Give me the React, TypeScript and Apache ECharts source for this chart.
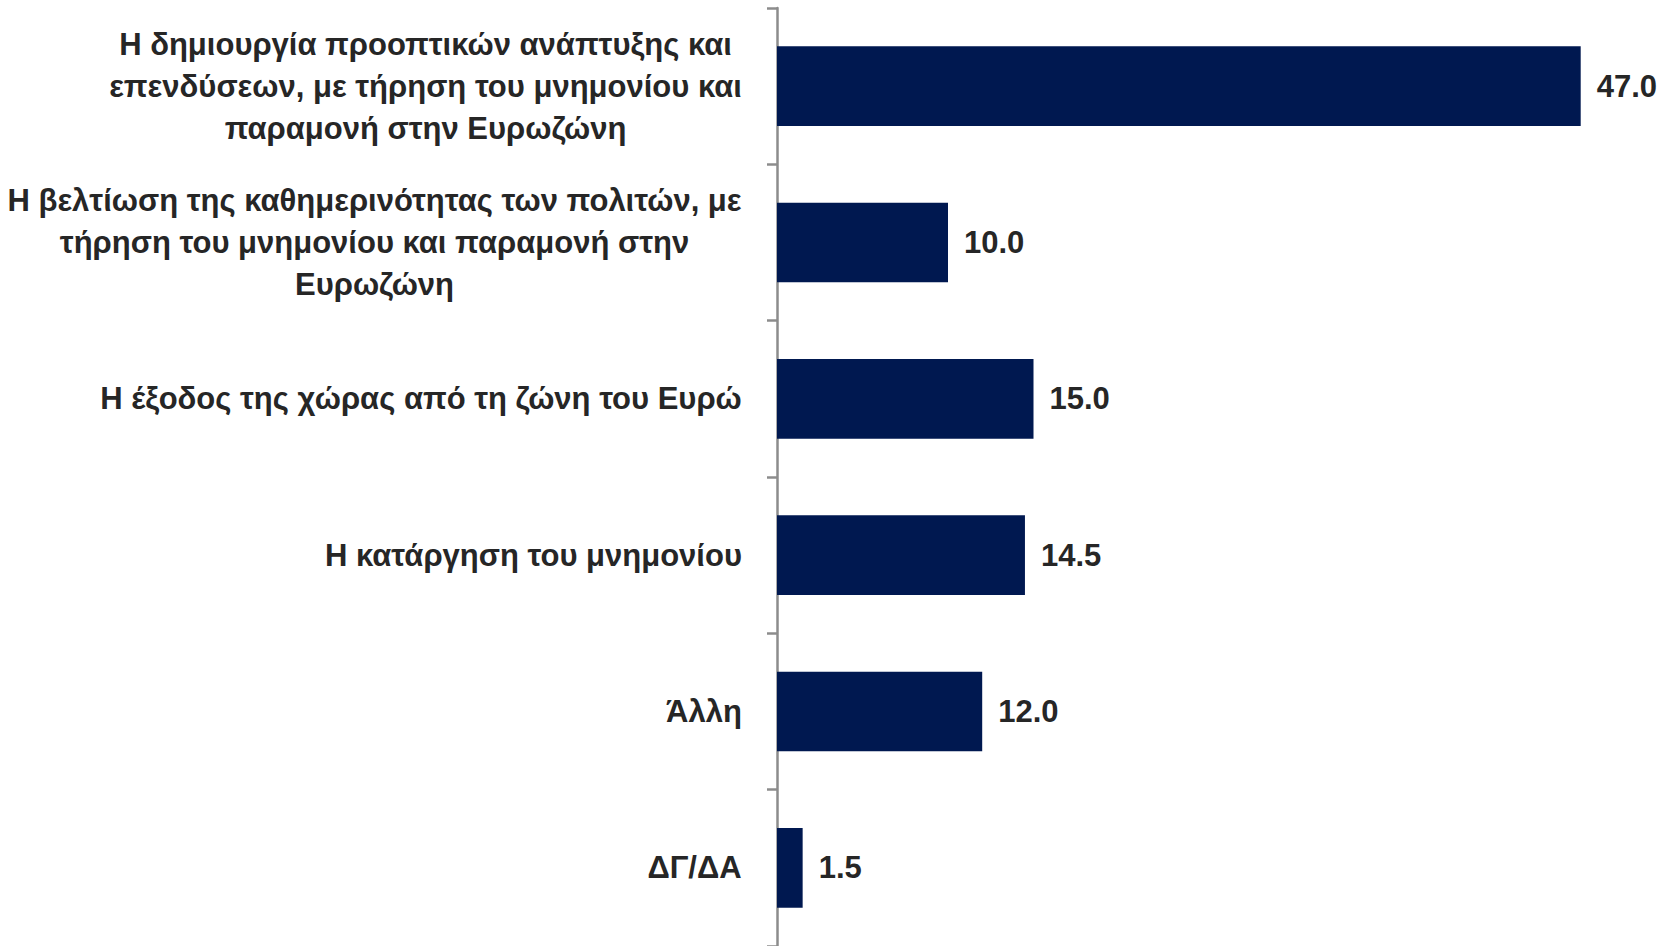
import React, { useEffect, useRef } from "react";
import * as echarts from "echarts";

const categories: string[] = [
  "Η δημιουργία προοπτικών ανάπτυξης και\nεπενδύσεων, με τήρηση του μνημονίου και\nπαραμονή στην Ευρωζώνη",
  "Η βελτίωση της καθημερινότητας των πολιτών, με\nτήρηση του μνημονίου και παραμονή στην\nΕυρωζώνη",
  "Η έξοδος της χώρας από τη ζώνη του Ευρώ",
  "Η κατάργηση του μνημονίου",
  "Άλλη",
  "ΔΓ/ΔΑ",
];
const values: number[] = [47.0, 10.0, 15.0, 14.5, 12.0, 1.5];

const FONT_FAMILY = '"Liberation Sans", Arial, sans-serif';
const FONT_SIZE = 31;
const TEXT_COLOR = "#262626";
const BAR_COLOR = "#001850";

function measure(text: string): number {
  const c = document.createElement("canvas");
  const ctx = c.getContext("2d");
  if (!ctx) return text.length * 16;
  ctx.font = `bold ${FONT_SIZE}px ${FONT_FAMILY}`;
  return ctx.measureText(text).width;
}

export default function App() {
  const ref = useRef<HTMLDivElement>(null);
  useEffect(() => {
    document.body.style.margin = "0";
    if (!ref.current) return;
    const chart = echarts.init(ref.current, undefined, { renderer: "svg" });
    const rich: Record<string, any> = {};
    categories.forEach((cat, i) => {
      const w = Math.ceil(Math.max(...cat.split("\n").map(measure)));
      rich["c" + i] = {
        width: w,
        align: "center",
        fontFamily: FONT_FAMILY,
        fontSize: FONT_SIZE,
        fontWeight: "bold",
        color: TEXT_COLOR,
        lineHeight: 42,
      };
    });
    chart.setOption({
      animation: false,
      grid: {
        left: 777,
        top: 8,
        bottom: 0,
        width: 855,
        containLabel: false,
        outerBoundsMode: "none",
      },
      xAxis: {
        type: "value",
        min: 0,
        max: 50,
        show: false,
        splitLine: { show: false },
      },
      yAxis: {
        type: "category",
        inverse: true,
        data: categories,
        axisLine: { show: true, lineStyle: { color: "#8c8c8c", width: 2.5 } },
        axisTick: { show: true, length: 10, lineStyle: { color: "#8c8c8c", width: 2.5 } },
        axisLabel: {
          margin: 35,
          lineHeight: 42,
          formatter: (v: string) => {
            const i = categories.indexOf(v);
            return v
              .split("\n")
              .map((l) => `{c${i}|${l}}`)
              .join("\n");
          },
          rich,
        },
      },
      series: [
        {
          type: "bar",
          data: values,
          barCategoryGap: "49%",
          itemStyle: { color: BAR_COLOR },
          label: {
            show: true,
            position: "right",
            distance: 16,
            formatter: (p: any) => Number(p.value).toFixed(1),
            fontFamily: FONT_FAMILY,
            fontSize: FONT_SIZE,
            fontWeight: "bold",
            color: TEXT_COLOR,
          },
        },
      ],
    });
    return () => chart.dispose();
  }, []);
  return (
    <div
      ref={ref}
      style={{ position: "fixed", left: 0, top: 0, width: 1667, height: 946, background: "#fff" }}
    />
  );
}
